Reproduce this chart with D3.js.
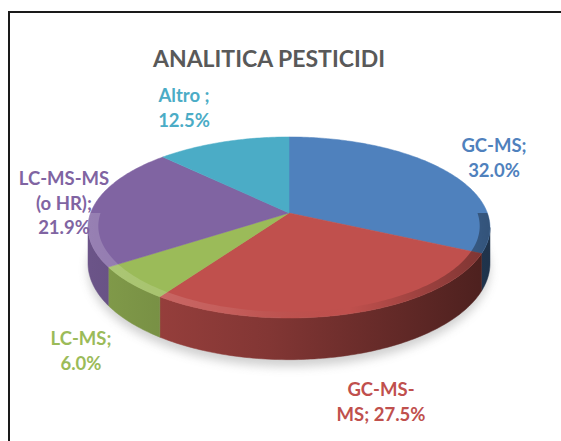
<!DOCTYPE html>
<html>
<head>
<meta charset="utf-8">
<script src="https://cdn.jsdelivr.net/npm/d3@7"></script>
<style>
  html, body { margin: 0; padding: 0; background: #fff; }
  svg { display: block; font-family: Lato, "Open Sans", sans-serif; }
</style>
</head>
<body>
<div id="chart"></div>
<script>
// Data
const categories = ['GC-MS', 'GC-MS-MS', 'LC-MS', 'LC-MS-MS (o HR)', 'Altro'];
const values = [32.0, 27.5, 6.0, 21.9, 12.5];
const colors = ['#4F81BD', '#C0504D', '#9BBB59', '#8064A2', '#4BACC6'];
const labelLines = [
    ['GC-MS;', '32.0%'],
    ['GC-MS-', 'MS; 27.5%'],
    ['LC-MS;', '6.0%'],
    ['LC-MS-MS', '(o HR);', '21.9%'],
    ['Altro ;', '12.5%']
];
const title = 'ANALITICA PESTICIDI';

// Layout
const W = 561, H = 441;
const cx = 289, cy = 213;      // pie centre on the top face
const a = 198.4, b = 88.2;     // ellipse half axes before perspective
const k = 0.16;                // perspective strength
const depth = 35;              // thickness of the pie
// label anchor (x, first baseline), one per slice
const labelAnchor = [[494, 152], [381, 396], [81, 345], [64, 185], [184, 102]];
const lineGap = 24.5;

const svg = d3.select('#chart').append('svg')
    .attr('width', W)
    .attr('height', H);

svg.append('rect').attr('width', W).attr('height', H).attr('fill', '#fff');

// Chart frame (only left and top edges are inside the picture)
svg.append('path')
    .attr('d', `M9,${H + 5}V12H${W + 5}`)
    .attr('fill', 'none')
    .attr('stroke', '#1a1a1a')
    .attr('stroke-width', 2);

// Title
svg.append('text')
    .attr('x', 269)
    .attr('y', 67)
    .attr('text-anchor', 'middle')
    .style('font-size', '23px')
    .style('font-weight', 'bold')
    .attr('fill', '#595959')
    .text(title);

// Project a point of the pie: theta clockwise from 12 o'clock
const rScale = d3.scaleLinear().domain([0, 1]).range([0, 1]);
function proj(theta, r, dz) {
    const u = rScale(r) * Math.sin(theta);
    const v = -rScale(r) * Math.cos(theta);
    const w = 1 - k * v;
    return [cx + a * u / w, cy + (b * v + dz) / w];
}
function arcPoints(t0, t1, r, dz) {
    const n = Math.max(2, Math.ceil(Math.abs(t1 - t0) / (Math.PI / 180)));
    return d3.range(n + 1).map(i => proj(t0 + (t1 - t0) * i / n, r, dz));
}
const line = d3.line().curve(d3.curveLinear);

const pie = d3.pie().sort(null).value(d => d)
    .startAngle(0).endAngle(2 * Math.PI);
const arcs = pie(values);

const defs = svg.append('defs');

// soft shadow
defs.append('filter').attr('id', 'blur')
    .attr('x', '-20%').attr('y', '-20%').attr('width', '140%').attr('height', '140%')
    .append('feGaussianBlur').attr('stdDeviation', 5);

// side gradients, darker to the right
colors.forEach((c, i) => {
    const g = defs.append('linearGradient')
        .attr('id', `side${i}`)
        .attr('gradientUnits', 'userSpaceOnUse')
        .attr('x1', cx - a).attr('x2', cx + a)
        .attr('y1', 0).attr('y2', 0);
    g.append('stop').attr('offset', 0).attr('stop-color', d3.color(c).darker(0.5));
    g.append('stop').attr('offset', 0.45).attr('stop-color', d3.color(c).darker(1.1));
    g.append('stop').attr('offset', 1).attr('stop-color', d3.color(c).darker(2.6));
});

// bevel along the rim of the top face, stronger at the front
const bevel = defs.append('linearGradient')
    .attr('id', 'bevel')
    .attr('gradientUnits', 'userSpaceOnUse')
    .attr('x1', cx - a).attr('x2', cx + a)
    .attr('y1', 0).attr('y2', 0);
bevel.append('stop').attr('offset', 0).attr('stop-color', '#fff').attr('stop-opacity', 0.18);
bevel.append('stop').attr('offset', 0.35).attr('stop-color', '#fff').attr('stop-opacity', 0.08);
bevel.append('stop').attr('offset', 0.65).attr('stop-color', '#000').attr('stop-opacity', 0);
bevel.append('stop').attr('offset', 1).attr('stop-color', '#000').attr('stop-opacity', 0.35);

// Shadow under the pie
svg.append('path')
    .attr('d', line(arcPoints(0, 2 * Math.PI, 1.0, depth + 6)) + 'Z')
    .attr('fill', '#9a9a9a')
    .attr('opacity', 0.45)
    .attr('filter', 'url(#blur)');

// Sides: only the front part between the silhouette angles is visible
const sMin = Math.acos(-k), sMax = 2 * Math.PI - Math.acos(-k);
svg.append('g').selectAll('path')
    .data(arcs.filter(d => d.endAngle > sMin && d.startAngle < sMax))
    .join('path')
    .attr('d', d => {
        const t0 = Math.max(d.startAngle, sMin);
        const t1 = Math.min(d.endAngle, sMax);
        const top = arcPoints(t0, t1, 1, 0);
        const bottom = arcPoints(t1, t0, 1, depth);
        return line(top.concat(bottom)) + 'Z';
    })
    .attr('fill', d => `url(#side${d.index})`)
    .attr('stroke', d => `url(#side${d.index})`)
    .attr('stroke-width', 0.5);

// Top face slices
svg.append('g').selectAll('path')
    .data(arcs)
    .join('path')
    .attr('d', d => line([proj(0, 0, 0)].concat(arcPoints(d.startAngle, d.endAngle, 1, 0))) + 'Z')
    .attr('fill', (d, i) => colors[i])
    .attr('stroke', (d, i) => colors[i])
    .attr('stroke-width', 0.5);

// Rim bevel overlay, only on the front half of the top face
svg.append('path')
    .attr('d', line(arcPoints(Math.PI / 2, 3 * Math.PI / 2, 1, 0)
                 .concat(arcPoints(3 * Math.PI / 2, Math.PI / 2, 0.95, 0))) + 'Z')
    .attr('fill', 'url(#bevel)');

// Data labels
const labels = svg.append('g')
    .style('font-size', '18.5px')
    .style('font-weight', 'bold')
    .attr('text-anchor', 'middle');

labelLines.forEach((lines, i) => {
    const t = labels.append('text')
        .attr('fill', colors[i]);
    lines.forEach((s, j) => {
        t.append('tspan')
            .attr('x', labelAnchor[i][0])
            .attr('y', labelAnchor[i][1] + j * lineGap)
            .text(s);
    });
});
</script>
</body>
</html>
